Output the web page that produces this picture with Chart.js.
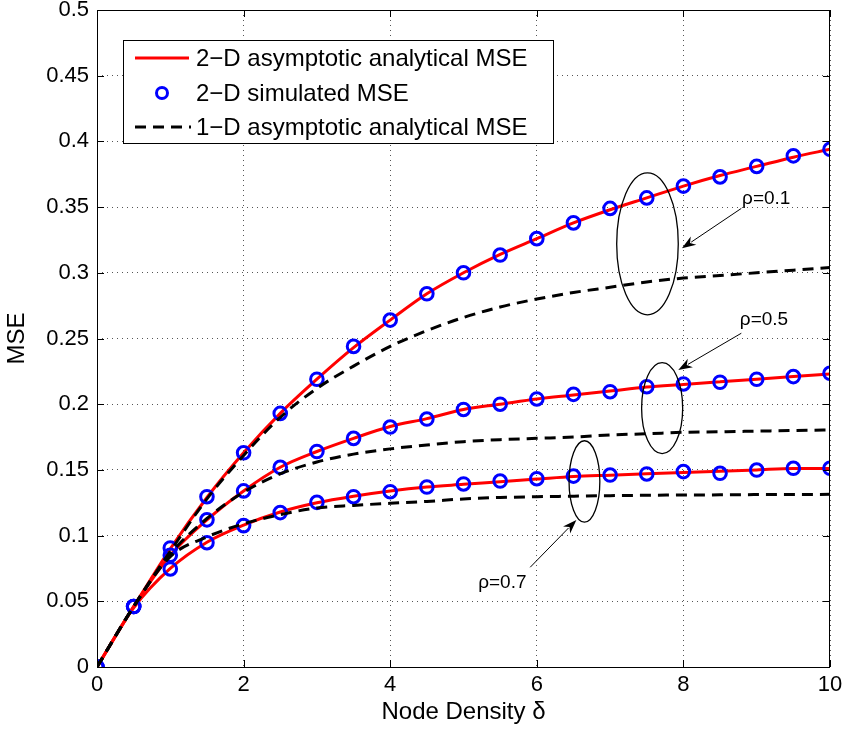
<!DOCTYPE html>
<html>
<head>
<meta charset="utf-8">
<script src="https://cdn.jsdelivr.net/npm/chart.js@4/dist/chart.umd.min.js"></script>
<style>
  html, body { margin: 0; padding: 0; background: #fff; }
  #wrap { width: 845px; height: 732px; }
</style>
</head>
<body>
<div id="wrap"><canvas id="myChart"></canvas></div>
<script>
// node density values (x axis)
const density = [0, 0.5, 1, 1.5, 2, 2.5, 3, 3.5, 4, 4.5, 5, 5.5, 6, 6.5, 7, 7.5, 8, 8.5, 9, 9.5, 10];

// 2-D asymptotic analytical MSE
const ana2d_r01 = [0, 0.046, 0.090, 0.129, 0.163, 0.193, 0.219, 0.243, 0.264, 0.284, 0.300, 0.314, 0.326, 0.338, 0.348, 0.357, 0.366, 0.374, 0.381, 0.388, 0.394];
const ana2d_r05 = [0, 0.046, 0.085, 0.112, 0.134, 0.152, 0.164, 0.174, 0.183, 0.189, 0.196, 0.200, 0.204, 0.207, 0.210, 0.213, 0.215, 0.217, 0.219, 0.221, 0.223];
const ana2d_r07 = [0, 0.045, 0.075, 0.095, 0.108, 0.118, 0.125, 0.130, 0.134, 0.137, 0.139, 0.141, 0.143, 0.145, 0.146, 0.147, 0.148, 0.149, 0.150, 0.151, 0.151];

// 2-D simulated MSE
const sim2d_r01 = [0, 0.046, 0.0906, 0.1296, 0.163, 0.193, 0.219, 0.244, 0.264, 0.284, 0.300, 0.3135, 0.326, 0.338, 0.349, 0.357, 0.366, 0.373, 0.381, 0.389, 0.394];
const sim2d_r05 = [0, 0.046, 0.085, 0.112, 0.134, 0.152, 0.164, 0.174, 0.1826, 0.1887, 0.196, 0.200, 0.204, 0.2075, 0.2095, 0.2133, 0.2154, 0.2167, 0.219, 0.221, 0.2235];
const sim2d_r07 = [0, 0.046, 0.0746, 0.0946, 0.1076, 0.1175, 0.1253, 0.1296, 0.1334, 0.137, 0.1393, 0.1415, 0.1433, 0.1453, 0.1461, 0.1469, 0.1487, 0.1474, 0.1499, 0.1512, 0.1512];

// 1-D asymptotic analytical MSE
const ana1d_r01 = [0, 0.046, 0.088, 0.128, 0.161, 0.190, 0.212, 0.229, 0.244, 0.256, 0.266, 0.274, 0.280, 0.285, 0.289, 0.293, 0.296, 0.298, 0.300, 0.302, 0.304];
const ana1d_r05 = [0, 0.046, 0.086, 0.113, 0.133, 0.147, 0.156, 0.162, 0.166, 0.169, 0.1715, 0.173, 0.174, 0.175, 0.1766, 0.1775, 0.1786, 0.179, 0.1795, 0.180, 0.1804];
const ana1d_r07 = [0, 0.046, 0.084, 0.099, 0.109, 0.116, 0.121, 0.123, 0.1246, 0.126, 0.1279, 0.129, 0.1296, 0.130, 0.1304, 0.1307, 0.1309, 0.131, 0.1312, 0.1313, 0.1314];

const xTicks = [0, 2, 4, 6, 8, 10];
const yTicks = [0, 0.05, 0.1, 0.15, 0.2, 0.25, 0.3, 0.35, 0.4, 0.45, 0.5];
const legendLabels = ['2\u2212D asymptotic analytical MSE', '2\u2212D simulated MSE', '1\u2212D asymptotic analytical MSE'];

// rho callouts: ellipse (data coords), arrow tail -> head, label position
const callouts = [
  { text: '\u03c1=0.1', cx: 7.51, cy: 0.322, rx: 0.42, ry: 0.054, from: [8.79, 0.349], to: [7.98, 0.3186], lx: 9.13, ly: 0.356 },
  { text: '\u03c1=0.5', cx: 7.71, cy: 0.197, rx: 0.28, ry: 0.0346, from: [8.79, 0.254], to: [7.93, 0.226], lx: 9.10, ly: 0.264 },
  { text: '\u03c1=0.7', cx: 6.65, cy: 0.1412, rx: 0.21, ry: 0.031, from: [5.91, 0.0759], to: [6.54, 0.1119], lx: 5.53, ly: 0.064 },
];

const FONT = '"Liberation Sans", Arial, Helvetica, sans-serif';

function pts(ys) {
  return density.map((x, i) => ({ x: x, y: ys[i] }));
}

function redLine(ys) {
  return { data: pts(ys), borderColor: '#ff0000', borderWidth: 3, pointRadius: 0, cubicInterpolationMode: 'monotone', fill: false, order: 3 };
}
function circles(ys) {
  return { data: pts(ys), showLine: false, pointStyle: 'circle', pointRadius: 6.3, pointBorderWidth: 3,
    pointBorderColor: '#0000ff', pointBackgroundColor: 'rgba(0,0,0,0)', borderColor: '#0000ff', order: 2 };
}
function dashed(ys) {
  return { data: pts(ys), borderColor: '#000000', borderWidth: 3, borderDash: [11, 7], pointRadius: 0, cubicInterpolationMode: 'monotone', fill: false, order: 1 };
}

// frame, inward ticks, legend and rho callouts
const decorations = {
  id: 'decorations',
  afterDatasetsDraw(chart) {
    const ctx = chart.ctx;
    const { left, right, top, bottom } = chart.chartArea;
    const xs = chart.scales.x, ys = chart.scales.y;
    ctx.save();

    // box
    ctx.strokeStyle = '#000';
    ctx.lineWidth = 1;
    ctx.setLineDash([]);
    ctx.strokeRect(left + 0.5, top + 0.5, right - left - 1, bottom - top);

    // inward ticks on all four sides
    const tl = 7;
    ctx.beginPath();
    xTicks.forEach(v => {
      const px = Math.round(xs.getPixelForValue(v)) + 0.5;
      ctx.moveTo(px, bottom); ctx.lineTo(px, bottom - tl);
      ctx.moveTo(px, top); ctx.lineTo(px, top + tl);
    });
    yTicks.forEach(v => {
      const py = Math.round(ys.getPixelForValue(v)) + 0.5;
      ctx.moveTo(left, py); ctx.lineTo(left + tl, py);
      ctx.moveTo(right, py); ctx.lineTo(right - tl, py);
    });
    ctx.stroke();

    // callouts
    ctx.lineWidth = 1.3;
    callouts.forEach(c => {
      const cx = xs.getPixelForValue(c.cx), cy = ys.getPixelForValue(c.cy);
      const rx = Math.abs(xs.getPixelForValue(c.cx + c.rx) - cx);
      const ry = Math.abs(ys.getPixelForValue(c.cy + c.ry) - cy);
      ctx.beginPath();
      ctx.ellipse(cx, cy, rx, ry, 0, 0, Math.PI * 2);
      ctx.stroke();

      const x1 = xs.getPixelForValue(c.from[0]), y1 = ys.getPixelForValue(c.from[1]);
      const x2 = xs.getPixelForValue(c.to[0]), y2 = ys.getPixelForValue(c.to[1]);
      const ang = Math.atan2(y2 - y1, x2 - x1);
      const hl = 14, hw = 5;
      ctx.lineWidth = 1;
      ctx.beginPath();
      ctx.moveTo(x1, y1);
      ctx.lineTo(x2 - hl * 0.8 * Math.cos(ang), y2 - hl * 0.8 * Math.sin(ang));
      ctx.stroke();
      ctx.beginPath();
      ctx.moveTo(x2, y2);
      ctx.lineTo(x2 - hl * Math.cos(ang) + hw * Math.sin(ang), y2 - hl * Math.sin(ang) - hw * Math.cos(ang));
      ctx.lineTo(x2 - hl * 0.7 * Math.cos(ang), y2 - hl * 0.7 * Math.sin(ang));
      ctx.lineTo(x2 - hl * Math.cos(ang) - hw * Math.sin(ang), y2 - hl * Math.sin(ang) + hw * Math.cos(ang));
      ctx.closePath();
      ctx.fillStyle = '#000';
      ctx.fill();
      ctx.lineWidth = 1.3;

      ctx.font = '19px ' + FONT;
      ctx.textAlign = 'center';
      ctx.textBaseline = 'middle';
      ctx.fillText(c.text, xs.getPixelForValue(c.lx), ys.getPixelForValue(c.ly));
    });

    // legend box
    const bx = left + 26, by = top + 30, bw = 430, bh = 103;
    ctx.fillStyle = '#fff';
    ctx.fillRect(bx, by, bw, bh);
    ctx.lineWidth = 1;
    ctx.strokeStyle = '#000';
    ctx.strokeRect(bx + 0.5, by + 0.5, bw, bh);

    const rowY = [by + 18, by + 53, by + 87];
    const sx1 = bx + 12, sx2 = bx + 66;
    // red line sample
    ctx.strokeStyle = '#ff0000';
    ctx.lineWidth = 3;
    ctx.beginPath(); ctx.moveTo(sx1, rowY[0]); ctx.lineTo(sx2, rowY[0]); ctx.stroke();
    // circle sample
    ctx.strokeStyle = '#0000ff';
    ctx.lineWidth = 3;
    ctx.beginPath(); ctx.arc((sx1 + sx2) / 2, rowY[1], 5.5, 0, Math.PI * 2); ctx.stroke();
    // dashed sample
    ctx.strokeStyle = '#000';
    ctx.lineWidth = 3;
    ctx.setLineDash([11, 7]);
    ctx.beginPath(); ctx.moveTo(sx1, rowY[2]); ctx.lineTo(sx2 + 2, rowY[2]); ctx.stroke();
    ctx.setLineDash([]);

    ctx.fillStyle = '#000';
    ctx.font = '24px ' + FONT;
    ctx.textAlign = 'left';
    ctx.textBaseline = 'middle';
    legendLabels.forEach((t, i) => ctx.fillText(t, bx + 73, rowY[i] + 1));

    ctx.restore();
  }
};

const ctx = document.getElementById('myChart').getContext('2d');
const chartInstance = new Chart(ctx, {
  type: 'line',
  data: {
    datasets: [
      redLine(ana2d_r01), redLine(ana2d_r05), redLine(ana2d_r07),
      circles(sim2d_r01), circles(sim2d_r05), circles(sim2d_r07),
      dashed(ana1d_r01), dashed(ana1d_r05), dashed(ana1d_r07),
    ]
  },
  options: {
    responsive: true,
    maintainAspectRatio: false,
    animation: false,
    layout: { padding: { top: 10, right: 15, left: 0, bottom: 0 } },
    scales: {
      x: {
        type: 'linear', min: 0, max: 10,
        afterFit: s => { s.height = 65; s.paddingLeft = 0; s.paddingRight = 0; },
        afterBuildTicks: s => { s.ticks = xTicks.map(v => ({ value: v })); },
        ticks: { color: '#000', font: { family: FONT, size: 22 }, padding: 5, maxRotation: 0 },
        grid: { color: '#555', lineWidth: 1, drawTicks: false },
        border: { display: false, dash: [1, 4] },
        title: { display: true, text: 'Node Density \u03b4', color: '#000', font: { family: FONT, size: 24 }, padding: { top: 0, bottom: 5 } }
      },
      y: {
        min: 0, max: 0.5,
        afterFit: s => { s.width = 97; s.paddingTop = 0; s.paddingBottom = 0; },
        afterBuildTicks: s => { s.ticks = yTicks.map(v => ({ value: v })); },
        ticks: { color: '#000', font: { family: FONT, size: 22 }, padding: 8, callback: v => String(+v.toFixed(2)) },
        grid: { color: '#555', lineWidth: 1, drawTicks: false },
        border: { display: false, dash: [1, 4] },
        title: { display: true, text: 'MSE', color: '#000', font: { family: FONT, size: 24 }, padding: { top: 3, bottom: 0 } }
      }
    },
    plugins: {
      legend: { display: false },
      tooltip: { enabled: false }
    }
  },
  plugins: [decorations]
});
</script>
</body>
</html>
